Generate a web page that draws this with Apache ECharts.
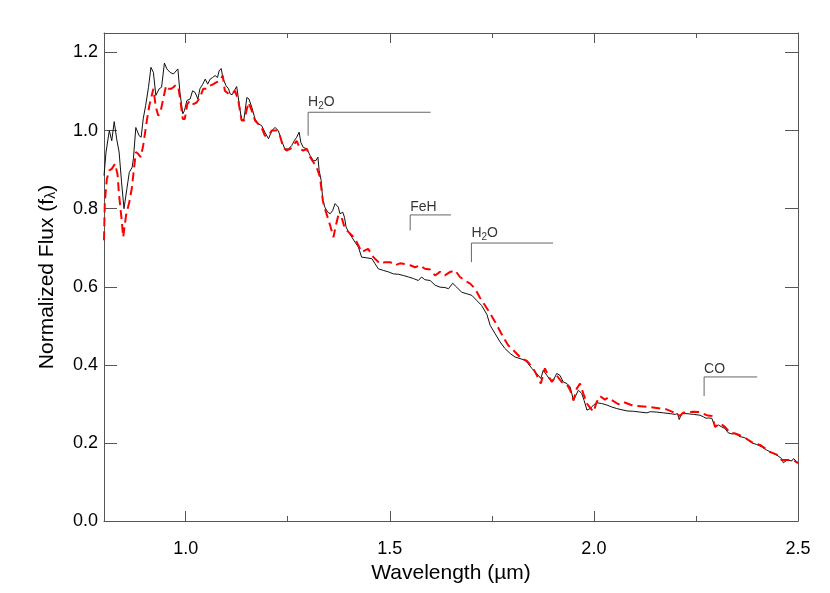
<!DOCTYPE html>
<html>
<head>
<meta charset="utf-8">
<script src="https://cdn.jsdelivr.net/npm/echarts@6/dist/echarts.min.js"></script>
<style>html,body{margin:0;padding:0;background:#fff}#c{width:830px;height:593px}</style>
</head>
<body>
<div id="c"></div>
<script>
// Observed spectrum (solid black)
const obsWave = [0.800,0.805,0.813,0.819,0.825,0.831,0.837,0.843,0.849,0.856,0.862,0.869,0.872,0.878,0.886,0.891,0.896,0.902,0.909,0.915,0.921,0.927,0.931,0.935,0.941,0.948,0.954,0.962,0.970,0.981,0.986,0.993,0.997,1.003,1.011,1.017,1.023,1.030,1.035,1.042,1.048,1.054,1.060,1.066,1.072,1.078,1.082,1.087,1.092,1.099,1.105,1.109,1.114,1.119,1.125,1.131,1.137,1.143,1.150,1.155,1.162,1.170,1.178,1.186,1.194,1.203,1.211,1.219,1.227,1.235,1.243,1.252,1.260,1.266,1.272,1.278,1.282,1.288,1.297,1.305,1.313,1.319,1.324,1.327,1.332,1.336,1.341,1.348,1.354,1.360,1.366,1.370,1.374,1.378,1.385,1.389,1.393,1.399,1.407,1.415,1.423,1.431,1.444,1.456,1.464,1.472,1.484,1.497,1.509,1.521,1.533,1.546,1.558,1.570,1.578,1.586,1.599,1.611,1.623,1.635,1.644,1.654,1.664,1.676,1.689,1.701,1.713,1.725,1.738,1.746,1.758,1.770,1.782,1.795,1.807,1.819,1.831,1.839,1.848,1.856,1.864,1.870,1.876,1.885,1.893,1.901,1.909,1.917,1.925,1.934,1.942,1.950,1.962,1.970,1.976,1.983,1.991,1.999,2.007,2.019,2.032,2.044,2.056,2.064,2.081,2.097,2.113,2.130,2.138,2.154,2.170,2.187,2.199,2.205,2.209,2.215,2.228,2.244,2.260,2.268,2.275,2.280,2.289,2.297,2.305,2.313,2.321,2.329,2.338,2.346,2.358,2.368,2.378,2.389,2.399,2.411,2.423,2.436,2.448,2.460,2.464,2.473,2.485,2.489,2.497,2.500];
const obsFlux = [0.885,0.945,1.000,0.974,1.023,0.979,0.945,0.868,0.800,0.851,0.893,0.906,0.928,1.008,0.987,0.983,1.030,1.064,1.111,1.162,1.149,1.090,1.085,1.107,1.111,1.173,1.158,1.149,1.145,1.158,1.098,1.043,1.051,1.077,1.081,1.102,1.098,1.081,1.107,1.119,1.132,1.119,1.132,1.136,1.141,1.136,1.153,1.159,1.132,1.115,1.107,1.094,1.092,1.102,1.113,1.070,1.026,1.030,1.085,1.081,1.060,1.030,1.017,1.013,0.996,0.979,1.000,1.008,1.000,0.974,0.953,0.953,0.962,0.974,0.983,0.996,0.970,0.957,0.953,0.936,0.923,0.923,0.932,0.898,0.872,0.821,0.804,0.791,0.787,0.795,0.813,0.817,0.804,0.787,0.791,0.778,0.753,0.740,0.727,0.714,0.702,0.676,0.674,0.672,0.659,0.646,0.642,0.638,0.633,0.632,0.629,0.625,0.621,0.616,0.625,0.618,0.616,0.604,0.599,0.598,0.595,0.609,0.599,0.586,0.582,0.578,0.565,0.552,0.529,0.501,0.480,0.459,0.442,0.429,0.420,0.416,0.412,0.403,0.391,0.382,0.373,0.365,0.386,0.373,0.361,0.361,0.378,0.373,0.356,0.352,0.343,0.309,0.335,0.327,0.309,0.284,0.288,0.297,0.303,0.301,0.297,0.292,0.288,0.286,0.282,0.281,0.279,0.277,0.280,0.279,0.277,0.275,0.273,0.275,0.260,0.275,0.275,0.273,0.271,0.267,0.263,0.264,0.263,0.241,0.246,0.241,0.237,0.226,0.223,0.224,0.216,0.214,0.207,0.199,0.196,0.190,0.182,0.175,0.169,0.160,0.149,0.156,0.154,0.160,0.152,0.150];

// Model / comparison spectrum (red dashed)
const modWave = [0.800,0.802,0.807,0.813,0.819,0.827,0.833,0.837,0.843,0.847,0.854,0.862,0.868,0.872,0.878,0.884,0.890,0.896,0.905,0.911,0.917,0.921,0.927,0.933,0.940,0.945,0.952,0.958,0.964,0.970,0.976,0.982,0.986,0.993,0.998,1.004,1.011,1.019,1.027,1.035,1.043,1.052,1.060,1.068,1.076,1.084,1.091,1.096,1.105,1.113,1.121,1.129,1.137,1.143,1.154,1.162,1.170,1.178,1.186,1.194,1.203,1.211,1.223,1.231,1.239,1.247,1.256,1.264,1.272,1.280,1.288,1.297,1.305,1.313,1.321,1.329,1.336,1.341,1.349,1.354,1.362,1.368,1.374,1.382,1.390,1.399,1.407,1.415,1.423,1.431,1.439,1.447,1.460,1.476,1.488,1.501,1.513,1.525,1.537,1.550,1.562,1.574,1.586,1.599,1.611,1.623,1.635,1.648,1.660,1.672,1.684,1.697,1.709,1.721,1.741,1.758,1.778,1.790,1.807,1.823,1.836,1.848,1.856,1.864,1.870,1.880,1.888,1.897,1.909,1.921,1.934,1.942,1.950,1.958,1.966,1.974,1.983,1.991,1.999,2.007,2.015,2.027,2.035,2.048,2.060,2.072,2.097,2.138,2.178,2.203,2.211,2.218,2.244,2.260,2.276,2.289,2.297,2.309,2.321,2.334,2.346,2.366,2.391,2.407,2.431,2.448,2.460,2.473,2.488,2.500];
const modFlux = [0.719,0.817,0.876,0.898,0.902,0.915,0.889,0.834,0.774,0.727,0.783,0.817,0.851,0.889,0.945,0.940,0.932,0.962,1.026,1.064,1.090,1.107,1.060,1.038,1.056,1.081,1.115,1.107,1.107,1.111,1.117,1.111,1.085,1.030,1.030,1.068,1.077,1.068,1.072,1.085,1.107,1.107,1.115,1.119,1.124,1.128,1.141,1.102,1.094,1.094,1.102,1.077,1.026,1.026,1.072,1.051,1.026,1.017,1.008,0.987,0.987,1.000,1.000,0.987,0.957,0.949,0.953,0.962,0.974,0.953,0.949,0.953,0.932,0.919,0.906,0.881,0.821,0.800,0.774,0.757,0.727,0.757,0.783,0.778,0.749,0.740,0.732,0.723,0.706,0.689,0.693,0.697,0.676,0.659,0.663,0.663,0.655,0.660,0.658,0.655,0.650,0.655,0.646,0.644,0.629,0.638,0.629,0.638,0.642,0.625,0.616,0.608,0.595,0.572,0.540,0.510,0.471,0.450,0.433,0.416,0.410,0.395,0.382,0.365,0.352,0.391,0.373,0.356,0.373,0.356,0.350,0.335,0.309,0.339,0.352,0.327,0.301,0.290,0.280,0.305,0.320,0.311,0.316,0.307,0.299,0.305,0.295,0.292,0.286,0.275,0.269,0.277,0.280,0.279,0.271,0.269,0.241,0.250,0.241,0.226,0.224,0.216,0.199,0.195,0.177,0.170,0.156,0.156,0.156,0.148];

// Band annotations
const bandNames  = ['H2O', 'FeH', 'H2O', 'CO'];
const bandStart  = [1.30, 1.55, 1.70, 2.27];
const bandEnd    = [1.60, 1.65, 1.90, 2.40];
const bandTop    = [1.047, 0.784, 0.712, 0.369];
const bandBottom = [0.987, 0.744, 0.663, 0.320];

// Axis ticks
const xMajorTicks = [1.0, 1.5, 2.0, 2.5];
const xMinorTicks = [1.25, 1.75, 2.25];
const yTicks = [0.0, 0.2, 0.4, 0.6, 0.8, 1.0, 1.2];

const FONT = "'Liberation Sans', Arial, Helvetica, sans-serif";
const AX = '#555';

function bandLabel(name) {
  if (name === 'H2O') return '{n|H}{s|2}{n|O}';
  return '{n|' + name + '}';
}

const series = [];
series.push({
  type: 'line', xAxisIndex: 0, yAxisIndex: 0,
  data: obsWave.map((w, i) => [w, obsFlux[i]]),
  showSymbol: false, symbol: 'none',
  lineStyle: { color: '#111', width: 1 },
  z: 3, silent: true, clip: true
});
series.push({
  type: 'line', xAxisIndex: 0, yAxisIndex: 0,
  data: modWave.map((w, i) => [w, modFlux[i]]),
  showSymbol: false, symbol: 'none',
  lineStyle: { color: '#ff0000', width: 2, type: [9, 5] },
  z: 4, silent: true, clip: true
});
bandNames.forEach((name, i) => {
  series.push({
    type: 'line', xAxisIndex: 0, yAxisIndex: 0,
    data: [[bandStart[i], bandBottom[i]], [bandStart[i], bandTop[i]], [bandEnd[i], bandTop[i]]],
    showSymbol: false, symbol: 'none',
    lineStyle: { color: '#666', width: 1 },
    z: 2, silent: true
  });
  series.push({
    type: 'scatter', xAxisIndex: 0, yAxisIndex: 0,
    data: [[bandStart[i], bandTop[i]]],
    symbolSize: 0.1,
    itemStyle: { color: 'rgba(0,0,0,0)' },
    label: {
      show: true, position: 'top', distance: 1, align: 'left',
      formatter: bandLabel(name),
      rich: {
        n: { fontSize: 14, color: '#000', fontFamily: FONT },
        s: { fontSize: 10, color: '#000', fontFamily: FONT, padding: [8, 0, 0, 0] }
      }
    },
    z: 5, silent: true
  });
});

const chart = echarts.init(document.getElementById('c'), null, { renderer: 'canvas' });
chart.setOption({
  backgroundColor: '#fff',
  animation: false,
  grid: { left: 104, right: 32, top: 33, bottom: 72, containLabel: false },
  xAxis: [
    { type: 'value', position: 'bottom', min: 0.8, max: 2.5,
      name: 'Wavelength (µm)', nameLocation: 'middle', nameGap: 35,
      nameTextStyle: { fontSize: 21, color: '#000', fontFamily: FONT },
      axisLine: { show: true, lineStyle: { color: AX, width: 1 } },
      axisTick: { show: true, inside: true, length: 10, customValues: xMajorTicks, lineStyle: { color: AX } },
      axisLabel: { show: true, margin: 19, fontSize: 18, color: '#000', fontFamily: FONT,
                   customValues: xMajorTicks, formatter: v => v.toFixed(1) },
      splitLine: { show: false } },
    { type: 'value', position: 'bottom', min: 0.8, max: 2.5,
      axisLine: { show: false },
      axisTick: { show: true, inside: true, length: 5, customValues: xMinorTicks, lineStyle: { color: AX } },
      axisLabel: { show: false }, splitLine: { show: false } },
    { type: 'value', position: 'top', min: 0.8, max: 2.5,
      axisLine: { show: true, lineStyle: { color: AX, width: 1 } },
      axisTick: { show: true, inside: true, length: 10, customValues: xMajorTicks, lineStyle: { color: AX } },
      axisLabel: { show: false }, splitLine: { show: false } },
    { type: 'value', position: 'top', min: 0.8, max: 2.5,
      axisLine: { show: false },
      axisTick: { show: true, inside: true, length: 5, customValues: xMinorTicks, lineStyle: { color: AX } },
      axisLabel: { show: false }, splitLine: { show: false } }
  ],
  yAxis: [
    { type: 'value', position: 'left', min: 0, max: 1.25,
      name: '{t|Normalized Flux (f}{s|λ}{t|)}', nameLocation: 'middle', nameGap: 46, nameRotate: 90,
      nameTextStyle: { color: '#000', fontFamily: FONT,
        rich: { t: { fontSize: 21, fontFamily: FONT, color: '#000' },
                s: { fontSize: 14, fontFamily: FONT, color: '#000', padding: [0, 0, -8, 0] } } },
      axisLine: { show: true, lineStyle: { color: AX, width: 1 } },
      axisTick: { show: true, inside: true, length: 13, customValues: yTicks, lineStyle: { color: AX } },
      axisLabel: { show: true, margin: 6, fontSize: 18, color: '#000', fontFamily: FONT,
                   customValues: yTicks, formatter: v => v.toFixed(1) },
      splitLine: { show: false } },
    { type: 'value', position: 'right', min: 0, max: 1.25,
      axisLine: { show: true, lineStyle: { color: AX, width: 1 } },
      axisTick: { show: true, inside: true, length: 13, customValues: yTicks, lineStyle: { color: AX } },
      axisLabel: { show: false }, splitLine: { show: false } }
  ],
  series: series
});
</script>
</body>
</html>
